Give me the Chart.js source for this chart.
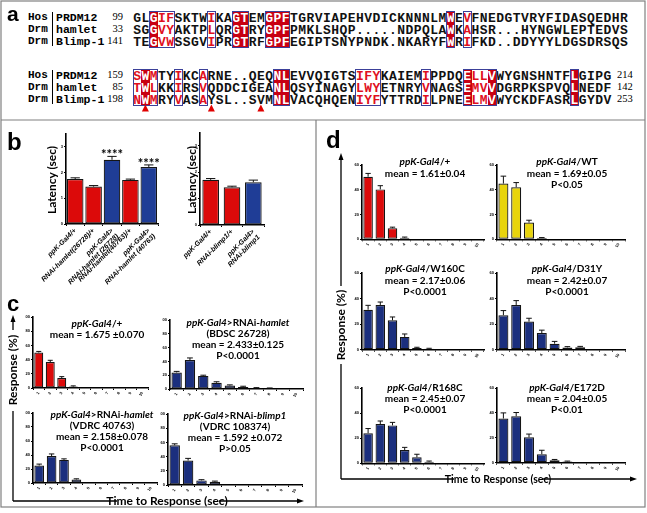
<!DOCTYPE html>
<html><head><meta charset="utf-8">
<script src="https://cdn.jsdelivr.net/npm/chart.js@4"></script>
<style>
body{margin:0;background:#fff;width:647px;height:513px;overflow:hidden;position:relative;font-family:Lato,"Liberation Sans",sans-serif;}
canvas{position:absolute;}
.t{position:absolute;white-space:nowrap;font-weight:bold;color:#000;line-height:1;transform:translate(-50%,-50%);}
.ch{position:absolute;width:8.25px;height:12px;line-height:12px;text-align:center;font:bold 13px "Liberation Mono",monospace;color:#111;}
.lb{position:absolute;line-height:12px;height:12px;white-space:nowrap;color:#000;font-family:"Liberation Mono",monospace;}
.fill{position:absolute;background:#c80012;}
.box{position:absolute;border:1px solid #3b4099;box-sizing:border-box;}
.pl{position:absolute;font-weight:bold;color:#000;line-height:1;font-family:"Liberation Sans",Arial,sans-serif;}
</style></head><body>
<script>
// ---------- Panel a data ----------
const speciesNames = ["Hos","Drm","Drm"];
const geneNames = ["PRDM12","hamlet","Blimp-1"];
const block1Start = [99,33,141];
const block1Seq = [
 "GLGIFSKTWIKAGTEMGPFTGRVIAPEHVDICKNNNLMWEVFNEDGTVRYFIDASQEDHR",
 "SGGVYAKTPLQRGTRYGPFPMKLSHQP.....NDPQLAWKAHSR...HYNGWLEPTEDVS",
 "TEGVWSSGVIPRGTRFGPFEGIPTSNYPNDK.NKARYFWRIFKD..DDYYYLDGSDRSQS"];
const block1Fill = [2,12,13,16,17,18,38];
const block1Similar = [3,4,9,40];
const block1Boxes = [[2,4],[9,9],[12,13],[16,18],[38,38],[40,40]];
const block2Start = [159,85,198];
const block2End = [214,142,253];
const block2Seq = [
 "SWMTYIKCARNE..QEQNLEVVQIGTSIFYKAIEMIPPDQELLVWYGNSHNTFLGIPG",
 "TWLKKIRSVQDDCIGEANLQSYINAGYLWYETNRYVNAGSEMVVDGRPKSPVQLNEDF",
 "NWMRYVASAYSL..SVMNLVACQHQENIYFYTTRDILPNEELMVWYCKDFASRLGYDV"];
const block2Fill = [1,17,18,40,43,53];
const block2Similar = [0,2,5,8,27,28,29,35,41,42];
const block2Boxes = [[0,2],[5,5],[8,8],[17,18],[27,29],[35,35],[40,43],[53,53]];
const mutationCols = [1,9,15];

// ---------- Panel b data ----------
const bLeftLabels = [["ppK-Gal4/+"],["RNAi-hamlet(26728)/+"],["ppK-Gal4>","RNAi-hamlet (26728)"],["RNAi-hamlet(40763)/+"],["ppK-Gal4>","RNAi-hamlet (40763)"]];
const bLeftLatency = [1.74,1.45,2.49,1.71,2.21];
const bLeftErr = [0.05,0.04,0.13,0.03,0.08];
const bLeftStars = ["","","****","","****"];
const bLeftGroup = ["ctrl","ctrl","rnai","ctrl","rnai"];
const bRightLabels = [["ppK-Gal4/+"],["RNAi-blimp1/+"],["ppK-Gal4>","RNAi-blimp1"]];
const bRightLatency = [1.71,1.43,1.62];
const bRightErr = [0.05,0.04,0.08];
const bRightGroup = ["ctrl","ctrl","rnai"];
const bYTicks = [0,1,2,3];

// ---------- Panels c, d data ----------
const timeBins = ["1","2","3","4","5","6","7","8","9","10"];
const cCtrl = [50,36.5,14,2,0,0,0,0,0,0];
const cCtrlErr = [1.5,2.5,2,1,0,0,0,0,0,0];
const cHamlet26728 = [24,42,19,9,5,3,1.5,1,0,0];
const cHamlet26728Err = [1.5,3,1,1.5,1,1,0.5,0.5,0,0];
const cHamlet40763 = [25,38.5,33,5,0,0,0,0,0,0];
const cHamlet40763Err = [2,3,1.5,1,0,0,0,0,0,0];
const cBlimp1 = [56,34.5,6.5,4.5,0,0,0,0,0,0];
const cBlimp1Err = [2,3,1,1,0,0,0,0,0,0];
const cYTicks = [0,20,40,60,80,100];

const dCtrl = [50.5,40.3,9,1.3,0,0,0,0,0,0];
const dCtrlErr = [2.7,3,0.8,0.5,0,0,0,0,0,0];
const dWT = [45,42,13.5,1,0,0,0,0,0,0];
const dWTErr = [6,3.8,1.9,0.4,0,0,0,0,0,0];
const dW160C = [31.3,35,23,10,1.3,0.8,0,0,0,0];
const dW160CErr = [3.4,2.3,2.6,2.3,0.6,0.3,0,0,0,0];
const dD31Y = [27,35,22,13,4.7,1.8,2,0,0,0];
const dD31YErr = [3.6,3.4,2.6,2.3,1.8,0.6,0.6,0,0,0];
const dR168C = [24,31.3,30.2,10.6,4.8,1.3,0,0,0,0];
const dR168CErr = [3.7,2.4,2.4,2.1,2.4,0.5,0,0,0,0];
const dE172D = [35.5,37.3,20.4,6.8,2,1,0,0,0,0];
const dE172DErr = [4.5,3,2.6,3.2,0.6,0.3,0,0,0,0];
const dYTicks = [0,20,40,60];

const RED='#dc0a0a', NAVY='#1b2f7e', BBLUE='#1f3d96', YEL='#e8d40c';
const groupColor = {ctrl:RED, rnai:BBLUE};

// ---------- helpers ----------
function el(tag, cls, css, html){const d=document.createElement(tag); if(cls)d.className=cls; Object.assign(d.style,css||{}); if(html!==undefined)d.innerHTML=html; document.body.appendChild(d); return d;}
function txt(x,y,size,html,extra){return el('div','t',Object.assign({left:x+'px',top:y+'px',fontSize:size+'px'},extra||{}),html);}

// ---------- Panel a ----------
const SX=133, CW=8.25, RH=12;
function block(seqs, y0, fills, sims, boxes, starts, ends){
  fills.forEach(c=>el('div','fill',{left:(SX+c*CW-0.2)+'px',top:y0+'px',width:(CW+0.5)+'px',height:(RH*3)+'px'}));
  seqs.forEach((s,r)=>{
    for(let i=0;i<s.length;i++){
      const color = fills.includes(i)?'#fff':(sims.includes(i)?'#e0101e':'#111');
      el('div','ch',{left:(SX+i*CW)+'px',top:(y0+r*RH)+'px',color:color},s[i]);
    }
    el('div','lb',{left:'28px',top:(y0+r*RH)+'px',font:'bold 11px "Liberation Mono",monospace'},speciesNames[r]);
    el('div','lb',{left:'56px',top:(y0+r*RH)+'px',font:'bold 11.5px "Liberation Mono",monospace'},geneNames[r]);
    el('div','lb',{left:'98px',width:'25px',textAlign:'right',top:(y0+r*RH)+'px',font:'10.5px "Liberation Serif",serif'},String(starts[r]));
    if(ends) el('div','lb',{left:'617px',top:(y0+r*RH)+'px',font:'10.5px "Liberation Serif",serif'},String(ends[r]));
  });
  boxes.forEach(b=>el('div','box',{left:(SX+b[0]*CW-0.5)+'px',top:(y0-0.5)+'px',width:((b[1]-b[0]+1)*CW+1)+'px',height:(RH*3+1)+'px'}));
  el('div','',{position:'absolute',left:'52px',top:(y0+1)+'px',width:'1.3px',height:(RH*3-2)+'px',background:'#000'});
}
block(block1Seq, 11, block1Fill, block1Similar, block1Boxes, block1Start, null);
block(block2Seq, 69, block2Fill, block2Similar, block2Boxes, block2Start, block2End);

// ---------- chart plugin: error bars + stars ----------
const errPlugin = {id:'err', afterDatasetsDraw(chart){
  const ctx=chart.ctx, ys=chart.scales.y;
  chart.data.datasets.forEach((ds,di)=>{
    const meta=chart.getDatasetMeta(di);
    meta.data.forEach((b,i)=>{
      const v=ds.data[i], e=(ds.errs||[])[i]||0;
      const yTop=ys.getPixelForValue(v+e);
      if(e>0){
        const w=b.width*0.28;
        ctx.save(); ctx.strokeStyle='#111'; ctx.lineWidth=1;
        ctx.beginPath(); ctx.moveTo(b.x,b.y); ctx.lineTo(b.x,yTop); ctx.moveTo(b.x-w,yTop); ctx.lineTo(b.x+w,yTop); ctx.stroke(); ctx.restore();
      }
      if(ds.stars && ds.stars[i]){
        ctx.save(); ctx.fillStyle='#000'; ctx.font='bold 13px Lato, "Liberation Sans", sans-serif'; ctx.textAlign='center'; ctx.textBaseline='alphabetic';
        ctx.fillText(ds.stars[i], b.x, yTop+3); ctx.restore();
      }
    });
  });
}};

function bars(o){
  const c=document.createElement('canvas');
  const cx=o.cx!==undefined?o.cx:o.ax-15, cy=o.cy!==undefined?o.cy:o.top-5;
  const cw=(o.cw!==undefined?o.cw:(o.right+4-cx)), ch=(o.ch!==undefined?o.ch:(o.bottom+10-cy));
  c.width=Math.round(cw); c.height=Math.round(ch);
  Object.assign(c.style,{left:cx+'px',top:cy+'px',width:Math.round(cw)+'px',height:Math.round(ch)+'px'});
  document.body.appendChild(c);
  const yW=o.yW||8, xH=o.xH||8;
  new Chart(c,{type:'bar',
    data:{labels:o.labels,datasets:[{data:o.values,errs:o.errs,stars:o.stars,backgroundColor:o.colors,borderColor:'#151515',borderWidth:1.2,borderSkipped:false,barPercentage:o.bp||0.78,categoryPercentage:1}]},
    options:{responsive:false,animation:false,events:[],devicePixelRatio:1,
      layout:{autoPadding:false,padding:{left:o.ax-cx-yW,top:o.top-cy,right:cx+Math.round(cw)-o.right,bottom:cy+Math.round(ch)-o.bottom-xH}},
      plugins:{legend:{display:false},tooltip:{enabled:false}},
      scales:{
        x:{grid:{drawOnChartArea:false,drawTicks:true,tickLength:2,color:'#000',lineWidth:1},border:{display:true,color:'#000',width:1.6},
           ticks:{autoSkip:false,maxRotation:o.rot,minRotation:o.rot,font:o.xFont,color:'#000',padding:1},
           afterFit:s=>{s.height=xH;s.paddingLeft=0;s.paddingRight=0;}},
        y:{min:0,max:o.max,grid:{drawOnChartArea:false,drawTicks:true,tickLength:2,color:'#000',lineWidth:1},border:{display:true,color:'#000',width:1.6},
           afterBuildTicks:s=>{s.ticks=o.yTicks.map(v=>({value:v}));},
           ticks:{font:{size:4,weight:'bold'},color:'#000',padding:1},
           afterFit:s=>{s.width=yW;s.paddingTop=0;s.paddingBottom=0;}}
      }},
    plugins:[errPlugin]});
}

// Panel b
const bFont={size:7,weight:'bold',style:'italic',family:'"Liberation Sans", Arial, sans-serif',lineHeight:1.1};
bars({cx:0,cy:126,cw:172,ch:164,ax:66,top:133.7,bottom:224,right:158,xH:64,labels:bLeftLabels,values:bLeftLatency,errs:bLeftErr,stars:bLeftStars,colors:bLeftGroup.map(g=>groupColor[g]),max:3.5,yTicks:bYTicks,bp:0.9,rot:45,xFont:bFont});
bars({cx:150,cy:126,cw:125,ch:164,ax:200,top:132.6,bottom:225,right:264,xH:63,labels:bRightLabels,values:bRightLatency,errs:bRightErr,colors:bRightGroup.map(g=>groupColor[g]),max:3.5,yTicks:bYTicks,bp:0.78,rot:45,xFont:bFont});

// Panel c
const sFont={size:4,weight:'bold'};
bars({ax:33,top:317,bottom:388,right:148,labels:timeBins,values:cCtrl,errs:cCtrlErr,colors:RED,max:100,yTicks:cYTicks,rot:60,xFont:sFont});
bars({ax:170,top:320,bottom:389,right:303,labels:timeBins,values:cHamlet26728,errs:cHamlet26728Err,colors:NAVY,max:100,yTicks:cYTicks,rot:60,xFont:sFont});
bars({ax:33,top:413,bottom:483,right:157,labels:timeBins,values:cHamlet40763,errs:cHamlet40763Err,colors:NAVY,max:100,yTicks:cYTicks,rot:60,xFont:sFont});
bars({ax:168,top:414,bottom:485,right:302,labels:timeBins,values:cBlimp1,errs:cBlimp1Err,colors:NAVY,max:100,yTicks:cYTicks,rot:60,xFont:sFont});

// Panel d
bars({ax:362,top:165,bottom:239.3,right:484,labels:timeBins,values:dCtrl,errs:dCtrlErr,colors:RED,max:60,yTicks:dYTicks,rot:60,xFont:sFont});
bars({ax:497,top:165,bottom:239.3,right:625,labels:timeBins,values:dWT,errs:dWTErr,colors:YEL,max:60,yTicks:dYTicks,rot:60,xFont:sFont});
bars({ax:362,top:273.3,bottom:350,right:484,labels:timeBins,values:dW160C,errs:dW160CErr,colors:NAVY,max:60,yTicks:dYTicks,rot:60,xFont:sFont});
bars({ax:497,top:273.3,bottom:350,right:625,labels:timeBins,values:dD31Y,errs:dD31YErr,colors:NAVY,max:60,yTicks:dYTicks,rot:60,xFont:sFont});
bars({ax:362,top:388,bottom:463.3,right:484,labels:timeBins,values:dR168C,errs:dR168CErr,colors:NAVY,max:60,yTicks:dYTicks,rot:60,xFont:sFont});
bars({ax:497,top:388,bottom:462.7,right:625,labels:timeBins,values:dE172D,errs:dE172DErr,colors:NAVY,max:60,yTicks:dYTicks,rot:60,xFont:sFont});

// ---------- texts ----------
const TS=10;
txt(52,180,12,'Latency (sec)',{transform:'translate(-50%,-50%) rotate(-90deg)'});
txt(192,180,12,'Latency (sec)',{transform:'translate(-50%,-50%) rotate(-90deg)'});
txt(97,323,TS,'<i>ppK-Gal4</i>/+'); txt(97,334,TS,'mean = 1.675 ±0.070');
txt(238,322,TS,'<i>ppK-Gal4</i>&gt;RNAi-<i>hamlet</i>'); txt(238,333,TS,'(BDSC 26728)'); txt(238,344,TS,'mean = 2.433±0.125'); txt(238,355,TS,'P&lt;0.0001');
txt(102,414,TS,'<i>ppK-Gal4</i>&gt;RNAi-<i>hamlet</i>'); txt(102,425,TS,'(VDRC 40763)'); txt(102,436,TS,'mean = 2.158±0.078'); txt(102,447,TS,'P&lt;0.0001');
txt(235,415,TS,'<i>ppK-Gal4</i>&gt;RNAi-<i>blimp1</i>'); txt(235,426,TS,'(VDRC 108374)'); txt(235,437,TS,'mean = 1.592 ±0.072'); txt(235,448,TS,'P&gt;0.05');
txt(13,370,12,'Response (%)',{transform:'translate(-50%,-50%) rotate(-90deg)'});
txt(167,501,12,'Time to Response (sec)');
txt(425,161,TS,'<i>ppK-Gal4</i>/+'); txt(425,173,TS,'mean = 1.61±0.04');
txt(567,161,TS,'<i>ppK-Gal4</i>/WT'); txt(567,173,TS,'mean = 1.69±0.05'); txt(567,184,TS,'P&lt;0.05');
txt(425,268,TS,'<i>ppK-Gal4</i>/W160C'); txt(425,280,TS,'mean = 2.17±0.06'); txt(425,291,TS,'P&lt;0.0001');
txt(567,268,TS,'<i>ppK-Gal4</i>/D31Y'); txt(567,280,TS,'mean = 2.42±0.07'); txt(567,291,TS,'P&lt;0.0001');
txt(425,387,TS,'<i>ppK-Gal4</i>/R168C'); txt(425,398,TS,'mean = 2.45±0.07'); txt(425,409,TS,'P&lt;0.0001');
txt(567,387,TS,'<i>ppK-Gal4</i>/E172D'); txt(567,398,TS,'mean = 2.04±0.05'); txt(567,409,TS,'P&lt;0.01');
txt(341,325,12,'Response (%)',{transform:'translate(-50%,-50%) rotate(-90deg)'});
txt(498,479,10.5,'Time to Response (sec)');
el('div','pl',{left:'7px',top:'3px',fontSize:'21px'},'a');
el('div','pl',{left:'7px',top:'130px',fontSize:'24px'},'b');
el('div','pl',{left:'7px',top:'293px',fontSize:'22px'},'c');
el('div','pl',{left:'326px',top:'128px',fontSize:'24px'},'d');

// ---------- overlay lines ----------
const NS='http://www.w3.org/2000/svg';
const svg=document.createElementNS(NS,'svg');
svg.setAttribute('width','647');svg.setAttribute('height','513');
Object.assign(svg.style,{position:'absolute',left:'0',top:'0',pointerEvents:'none'});
function sv(tag,attrs){const e=document.createElementNS(NS,tag);for(const k in attrs)e.setAttribute(k,attrs[k]);svg.appendChild(e);return e;}
sv('rect',{x:1,y:1,width:644,height:506,fill:'none',stroke:'#808080','stroke-width':1.2});
sv('line',{x1:1,y1:120,x2:645,y2:120,stroke:'#808080','stroke-width':1.2});
sv('line',{x1:316,y1:120,x2:316,y2:507,stroke:'#808080','stroke-width':1.2});
mutationCols.forEach(c=>{const x=SX+(c+0.5)*CW; sv('polygon',{points:`${x-3.5},111.5 ${x+3.5},111.5 ${x},104.5`,fill:'#e00000'});});
const L={stroke:'#000','stroke-width':1.3};
sv('line',Object.assign({x1:13,y1:320,x2:13,y2:330},L));
sv('polygon',{points:'10.5,322 15.5,322 13,315',fill:'#000'});
sv('line',Object.assign({x1:13,y1:411,x2:13,y2:501},L));
sv('line',Object.assign({x1:13,y1:501,x2:117,y2:501},L));
sv('line',Object.assign({x1:219,y1:501,x2:299,y2:501},L));
sv('polygon',{points:'297,498.5 297,503.5 304,501',fill:'#000'});
sv('line',Object.assign({x1:341,y1:158,x2:341,y2:286},L));
sv('polygon',{points:'338.5,160 343.5,160 341,153',fill:'#000'});
sv('line',Object.assign({x1:341,y1:364,x2:341,y2:479},L));
sv('line',Object.assign({x1:341,y1:479,x2:454,y2:479},L));
sv('line',Object.assign({x1:542,y1:479,x2:632,y2:479},L));
sv('polygon',{points:'630,476.5 630,481.5 637,479',fill:'#000'});
document.body.appendChild(svg);
</script>
</body></html>
